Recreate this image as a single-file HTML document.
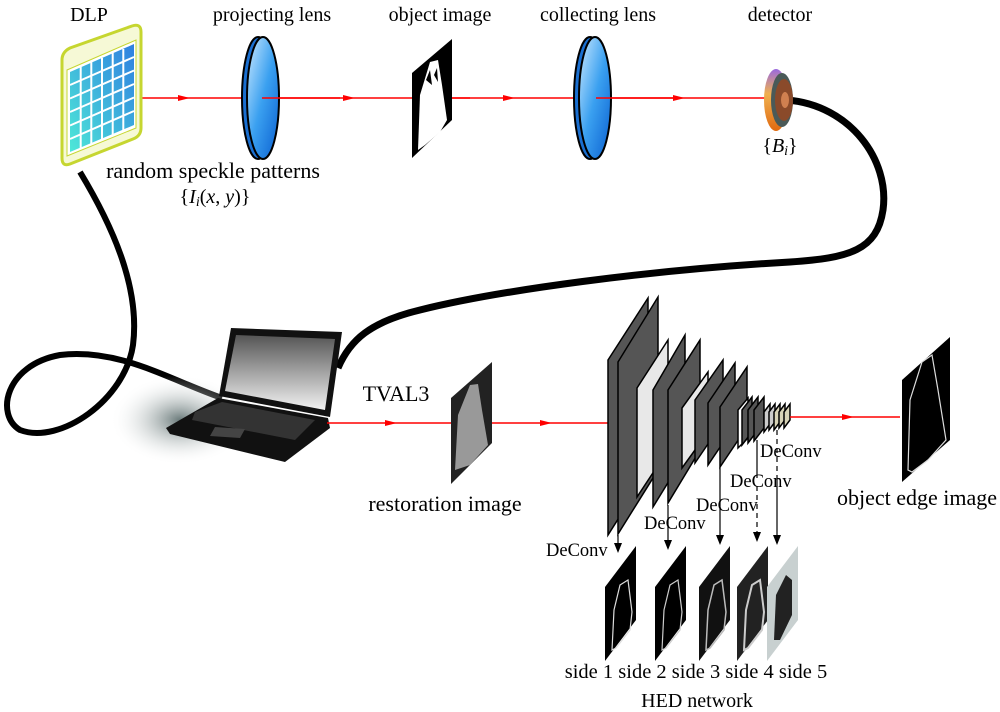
<!DOCTYPE html>
<html><head><meta charset="utf-8"><style>
html,body{margin:0;padding:0;background:#fff}
svg{display:block}
text{font-family:"Liberation Serif",serif;fill:#000}
</style></head><body>
<svg width="1000" height="712" viewBox="0 0 1000 712" xmlns="http://www.w3.org/2000/svg">
<defs>
<linearGradient id="lens" x1="0" y1="0" x2="1" y2="1"><stop offset="0" stop-color="#cdeaff"/><stop offset="0.5" stop-color="#3aa0f0"/><stop offset="1" stop-color="#0a5fd0"/></linearGradient>
<linearGradient id="dlp" x1="1" y1="0" x2="0" y2="1"><stop offset="0" stop-color="#2f7fe0"/><stop offset="1" stop-color="#4ee8d8"/></linearGradient>
<linearGradient id="scr" x1="0" y1="0" x2="0" y2="1"><stop offset="0" stop-color="#555"/><stop offset="1" stop-color="#f2f2f2"/></linearGradient>
<radialGradient id="shadow" cx="0.5" cy="0.5" r="0.5"><stop offset="0" stop-color="#6a7a7a"/><stop offset="1" stop-color="#fff" stop-opacity="0"/></radialGradient>
<linearGradient id="det" x1="0" y1="0" x2="0" y2="1"><stop offset="0" stop-color="#9a6adf"/><stop offset="0.4" stop-color="#f0b050"/><stop offset="1" stop-color="#e06a10"/></linearGradient>
</defs>

<!-- labels top -->
<g font-size="20" text-anchor="middle">
<text x="89" y="21">DLP</text>
<text x="272" y="21">projecting lens</text>
<text x="440" y="21">object image</text>
<text x="598" y="21">collecting lens</text>
<text x="780" y="21">detector</text>
</g>
<text x="213" y="178" font-size="22" text-anchor="middle">random speckle patterns</text>
<text x="215" y="203" font-size="20" text-anchor="middle">{<tspan font-style="italic">I<tspan font-size="14" dy="3">i</tspan></tspan><tspan dy="-3">(</tspan><tspan font-style="italic">x</tspan>, <tspan font-style="italic">y</tspan>)}</text>
<text x="780" y="152" font-size="20" text-anchor="middle">{<tspan font-style="italic">B<tspan font-size="14" dy="3">i</tspan></tspan><tspan dy="-3">}</tspan></text>

<!-- cables -->
<path d="M80,172 C115,230 140,290 133,345 C125,400 60,445 20,430 C-5,415 5,365 60,355 C120,348 170,380 222,398" fill="none" stroke="#000" stroke-width="6"/>
<path d="M787,100 C850,105 890,160 883,210 C877,250 850,258 790,262 C650,270 500,290 420,310 C370,322 350,340 338,368" fill="none" stroke="#000" stroke-width="7"/>

<!-- top beam -->
<line x1="110" y1="98" x2="787" y2="98" stroke="#f00" stroke-width="1.5"/>
<path d="M178,95 L190,98 L178,101z M343,95 L355,98 L343,101z M503,95 L515,98 L503,101z M673,95 L685,98 L673,101z" fill="#f00"/>

<!-- DLP -->
<path d="M62,60 Q62,52 70,48 L132,26 Q141,23 141,32 L141,128 Q141,136 133,139 L70,164 Q62,167 62,158z" fill="#f6f9d6" stroke="#c6d630" stroke-width="3"/>
<path d="M67,70 L136,40 L136,128 L67,156z" fill="#fff" stroke="#c6d630" stroke-width="1"/>
<path d="M70,72 L134,44 L134,125 L70,152z" fill="url(#dlp)"/>
<g stroke="#fff" stroke-width="2">
<line x1="80.7" y1="67" x2="80.7" y2="148"/><line x1="91.3" y1="62" x2="91.3" y2="144"/><line x1="102" y1="58" x2="102" y2="139"/><line x1="112.7" y1="53" x2="112.7" y2="135"/><line x1="123.3" y1="49" x2="123.3" y2="130"/>
<line x1="70" y1="85" x2="134" y2="57"/><line x1="70" y1="98.5" x2="134" y2="70.5"/><line x1="70" y1="112" x2="134" y2="84"/><line x1="70" y1="125.5" x2="134" y2="97.5"/><line x1="70" y1="139" x2="134" y2="111"/>
</g>

<!-- lenses -->
<ellipse cx="258" cy="98" rx="16" ry="61" fill="#1a6fd0" stroke="#000" stroke-width="2"/>
<ellipse cx="263" cy="98" rx="16" ry="61" fill="url(#lens)" stroke="#000" stroke-width="2"/>
<ellipse cx="590" cy="98" rx="16" ry="61" fill="#1a6fd0" stroke="#000" stroke-width="2"/>
<ellipse cx="595" cy="98" rx="16" ry="61" fill="url(#lens)" stroke="#000" stroke-width="2"/>
<line x1="262" y1="98" x2="340" y2="98" stroke="#f00" stroke-width="1.5"/>
<line x1="596" y1="98" x2="680" y2="98" stroke="#f00" stroke-width="1.5"/>

<!-- object image -->
<path d="M412,73 L452,39 L452,120 L412,158z" fill="#000"/>
<path d="M418,150 L420,95 L430,62 L438,60 L442,85 L447,120 L440,132 L425,145z" fill="#fff"/>
<path d="M426,80 L430,70 L432,85z M434,75 L437,68 L438,82z" fill="#000"/>
<line x1="452" y1="98" x2="470" y2="98" stroke="#f00" stroke-width="1.5"/>

<!-- detector -->
<ellipse cx="776" cy="100" rx="12" ry="31" fill="url(#det)"/>
<ellipse cx="782" cy="100" rx="11" ry="27" fill="#4a5a58"/>
<ellipse cx="784" cy="100" rx="9" ry="21" fill="#8a4a2a"/>
<ellipse cx="785" cy="100" rx="4" ry="8" fill="#d08050"/>

<!-- laptop -->
<ellipse cx="180" cy="420" rx="70" ry="45" fill="url(#shadow)"/>
<path d="M231,328 L342,332 L330,417 L219,396z" fill="#111"/>
<path d="M236,335 L335,339 L325,410 L225,391z" fill="url(#scr)"/>
<path d="M166,428 L218,398 L328,418 L330,428 L285,462 L170,434z" fill="#111"/>
<path d="M195,412 L222,402 L315,420 L295,440 L192,420z" fill="#333"/>
<path d="M215,427 L245,429 L240,438 L210,436z" fill="#444"/>

<!-- TVAL3 stage -->
<text x="396" y="401" font-size="22" text-anchor="middle">TVAL3</text>
<line x1="327" y1="423" x2="610" y2="423" stroke="#f00" stroke-width="1.5"/>
<path d="M385,420 L397,423 L385,426z M540,420 L552,423 L540,426z" fill="#f00"/>
<path d="M451,398 L492,362 L492,443 L451,484z" fill="#222"/>
<path d="M455,470 L458,415 L470,385 L478,384 L482,410 L488,445 L470,465z" fill="#999"/>
<text x="445" y="511" font-size="22" text-anchor="middle">restoration image</text>

<!-- HED layers -->
<g stroke="#000" stroke-width="1.5">
<path d="M608,360 L648,298 L648,472 L608,535z" fill="#555"/>
<path d="M618,362 L658,297 L658,470 L618,534z" fill="#555"/>
<path d="M637,388 L668,340 L668,450 L637,497z" fill="#e8e8e8"/>
<path d="M653,390 L685,335 L685,455 L653,507z" fill="#555"/>
<path d="M668,390 L700,340 L700,450 L668,503z" fill="#555"/>
<path d="M682,408 L708,372 L708,432 L682,468z" fill="#e8e8e8"/>
<path d="M695,400 L723,360 L723,422 L695,463z" fill="#555"/>
<path d="M708,403 L735,363 L735,425 L708,465z" fill="#555"/>
<path d="M720,407 L747,367 L747,427 L720,467z" fill="#555"/>
<path d="M738,410 L748,398 L748,438 L738,448z" fill="#fff"/>
<path d="M742,410 L752,397 L752,432 L742,445z" fill="#555"/>
<path d="M748,410 L758,397 L758,430 L748,443z" fill="#555"/>
<path d="M754,410 L764,397 L764,428 L754,441z" fill="#555"/>
<path d="M764,412 L770,404 L770,424 L764,432z" fill="#ccc"/>
<path d="M769,412 L775,404 L775,422 L769,430z" fill="#ccc"/>
<path d="M774,412 L780,404 L780,422 L774,430z" fill="#d8d4b8"/>
<path d="M779,412 L785,404 L785,420 L779,428z" fill="#d8d4b8"/>
<path d="M784,412 L790,404 L790,420 L784,428z" fill="#d8d4b8"/>
</g>
<line x1="790" y1="417" x2="900" y2="417" stroke="#f00" stroke-width="1.5"/>
<path d="M842,414 L854,417 L842,420z" fill="#f00"/>

<!-- DeConv -->
<g stroke="#000" stroke-width="1.2" fill="none">
<line x1="618" y1="535" x2="618" y2="547"/>
<line x1="668" y1="505" x2="668" y2="545"/>
<line x1="720" y1="467" x2="720" y2="540"/>
<line x1="757" y1="440" x2="757" y2="478"/>
<line x1="757" y1="486" x2="757" y2="537" stroke-dasharray="5,4"/>
<line x1="777" y1="430" x2="777" y2="475" stroke-dasharray="5,4"/>
<line x1="777" y1="475" x2="777" y2="540"/>
</g>
<path d="M614,543 L618,553 L622,543z M664,540 L668,550 L672,540z M716,535 L720,545 L724,535z M753,532 L757,542 L761,532z M773,535 L777,545 L781,535z" fill="#000"/>
<g font-size="18.5">
<text x="546" y="556">DeConv</text>
<text x="644" y="529">DeConv</text>
<text x="696" y="511">DeConv</text>
<text x="730" y="487">DeConv</text>
<text x="760" y="457">DeConv</text>
</g>

<!-- side outputs -->
<g>
<path d="M605,587 L636,546 L636,620 L605,661z" fill="#000"/>
<path d="M612,650 L614,610 L620,585 L628,580 L632,612 L630,630 L616,648z" fill="none" stroke="#ddd" stroke-width="1.2"/>
<path d="M655,587 L686,546 L686,620 L655,661z" fill="#000"/>
<path d="M662,650 L664,610 L670,585 L678,580 L682,612 L680,630 L666,648z" fill="none" stroke="#ccc" stroke-width="1.2"/>
<path d="M699,587 L730,546 L730,620 L699,661z" fill="#111"/>
<path d="M706,650 L708,610 L714,585 L722,580 L726,612 L724,630 L710,648z" fill="none" stroke="#bbb" stroke-width="1.5"/>
<path d="M737,587 L768,546 L768,620 L737,661z" fill="#222"/>
<path d="M744,650 L746,610 L752,585 L760,580 L764,612 L762,630 L748,648z" fill="none" stroke="#ccc" stroke-width="2"/>
<path d="M767,587 L798,546 L798,620 L767,661z" fill="#c8d0d0"/>
<path d="M774,640 L776,595 L786,575 L792,580 L792,615 L780,640z" fill="#222"/>
</g>
<text x="696" y="678" font-size="20.5" text-anchor="middle">side 1 side 2 side 3 side 4 side 5</text>
<text x="697" y="707" font-size="20" text-anchor="middle">HED network</text>

<!-- object edge image -->
<path d="M902,380 L950,337 L950,440 L902,482z" fill="#000"/>
<path d="M908,470 L910,400 L922,362 L932,355 L938,390 L946,440 L928,460 L912,472z" fill="none" stroke="#ddd" stroke-width="1.2"/>
<text x="917" y="505" font-size="22" text-anchor="middle">object edge image</text>
</svg>
</body></html>
